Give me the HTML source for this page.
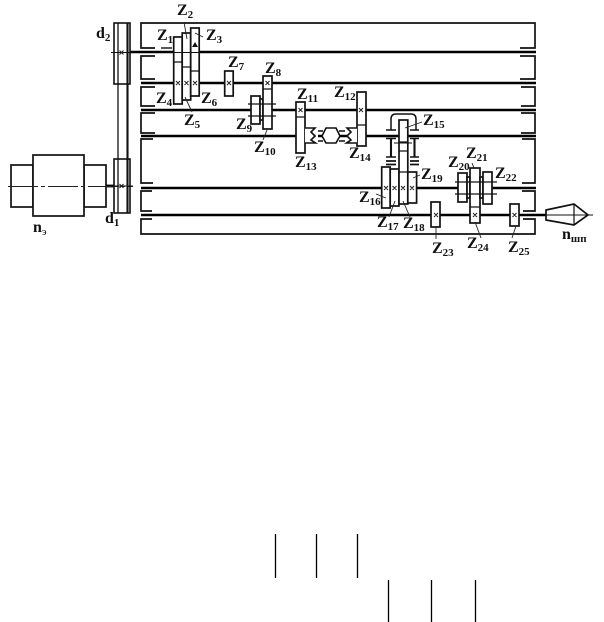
<!DOCTYPE html>
<html><head><meta charset="utf-8">
<style>
html,body{margin:0;padding:0;background:#fff}
svg{display:block}
.z{font:bold 16px "Liberation Serif",serif;fill:#111}
.s{font-size:11px}
</style></head><body>
<svg width="604" height="622" viewBox="0 0 604 622" xmlns="http://www.w3.org/2000/svg">
<!-- housing -->
<g fill="none" stroke="#111" stroke-width="1.7">
<path d="M155 48H141V23H535V48H520"/>
<path d="M161 48H172" stroke-width="1.4"/>
<path d="M155 56H141V79H155M520 56H535V79H520"/>
<path d="M155 87H141V106H155M521 87H535V106H521"/>
<path d="M155 113H141V133H155M521 113H535V133H521"/>
<path d="M153 139H141V183H153M522 139H535V183H522"/>
<path d="M152 191H141V211H152M522 191H535V211H523"/>
<path d="M152 219H141V234H535V219H523"/>
</g>
<!-- shafts -->
<g stroke="#000" stroke-width="2.5" fill="none">
<path d="M130 52H536"/>
<path d="M141 83H536"/>
<path d="M141 110H536"/>
<path d="M141 136H536"/>
<path d="M141 188H536"/>
<path d="M141 215H546"/>
<path d="M106 186H114" stroke-width="2.8"/>
</g>
<!-- motor -->
<g fill="#fff" stroke="#111" stroke-width="1.7">
<rect x="11" y="165" width="22" height="42"/>
<rect x="84" y="165" width="22" height="42"/>
<rect x="33" y="155" width="51" height="61"/>
</g>
<path d="M8 186.500H133" stroke="#222" stroke-width="1" stroke-dasharray="30 3 4 3" fill="none"/>
<!-- pulleys and belt -->
<g fill="none" stroke="#111" stroke-width="1.6">
<rect x="114" y="23" width="16" height="61"/>
<rect x="114" y="159" width="16" height="54"/>
<path d="M118 23V213" stroke-width="1.3"/>
<path d="M127.500 23V213" stroke-width="2.1"/>
<path d="M111 52.500H130M111 186H133" stroke-width="1"/>
</g>
<!-- gears -->
<g fill="#fff" stroke="#111" stroke-width="1.7">
<rect x="173.700" y="37" width="8.500" height="67"/>
<rect x="182.200" y="33" width="8.500" height="67"/>
<rect x="190.700" y="28" width="8.500" height="68"/>
<rect x="224.700" y="71" width="8.500" height="25"/>
<rect x="251" y="96" width="9" height="28"/>
<rect x="260" y="99" width="3" height="21"/>
<rect x="263" y="76" width="9" height="53"/>
<rect x="296" y="102" width="9" height="51"/>
<rect x="357" y="92" width="9" height="54"/>
<rect x="381.700" y="167" width="8.500" height="41"/>
<rect x="390.200" y="169" width="8.800" height="37"/>
<rect x="399" y="120" width="8.800" height="84"/>
<rect x="407.800" y="172" width="8.800" height="31"/>
<rect x="458" y="173" width="9" height="29"/>
<rect x="467" y="177" width="3" height="21"/>
<rect x="470" y="168" width="10" height="55"/>
<rect x="480" y="177" width="3" height="21"/>
<rect x="483" y="172" width="9" height="32"/>
<rect x="431" y="202" width="9" height="25"/>
<rect x="510" y="204" width="9" height="22"/>
</g>
<!-- gear dividers & cross lines -->
<g fill="none" stroke="#111" stroke-width="1.3">
<path d="M174 62H182M182 67H191M191 71H199M263 89H272M296 117H305M357 125H366M399 142H408M399 151H408M399 172H408M470 207H480"/>
<path d="M174 52.500H199" stroke-width="1"/>
<path d="M248 104H276M248 116H276M455 182H497M455 194H497" stroke-width="1.2"/>
<path d="M394 143H412" stroke-width="1"/>
</g>
<polygon points="195,42 192,47 198,47" fill="#111"/>
<!-- crosses -->
<g stroke="#222" stroke-width="1" fill="none">
<path d="M176 81l4 4m0-4l-4 4M184.500 81l4 4m0-4l-4 4M193 81l4 4m0-4l-4 4"/>
<path d="M227 81l4 4m0-4l-4 4M265.500 81l4 4m0-4l-4 4"/>
<path d="M298.500 108l4 4m0-4l-4 4M359 108l4 4m0-4l-4 4"/>
<path d="M384 186l4 4m0-4l-4 4M392.500 186l4 4m0-4l-4 4M401 186l4 4m0-4l-4 4M410 186l4 4m0-4l-4 4"/>
<path d="M434 213l4 4m0-4l-4 4M473 213l4 4m0-4l-4 4M512.500 213l4 4m0-4l-4 4"/>
<path d="M119.500 50.500l4 4m0-4l-4 4M119.500 184l4 4m0-4l-4 4"/>
</g>
<!-- clutch -->
<rect x="315.500" y="133" width="2.500" height="6" fill="#fff"/>
<g fill="#fff" stroke="#111" stroke-width="1.6">
<path d="M305 128H315L311 132L315 136L311 140L315.500 143H305"/>
<path d="M357 128H347L351 132L347 136L351 140L346.500 143H357"/>
<path d="M322 136L326 128H336L340 136L336 143H326Z"/>
<path d="M318 131H323M318 141H323M339 131H345M339 141H345" fill="none"/>
</g>
<!-- Z15 bearings -->
<g fill="none" stroke="#111">
<path d="M391 130V119Q391 114 396 114H411Q416 114 416 119V130" stroke-width="1.5"/>
<path d="M386 130H396M410 130H419M386 138.500H396M410 138.500H419M386 157H396M410 157H419" stroke-width="1.6"/>
<path d="M386 161H396M410 161H419M386 164.500H396M410 164.500H419" stroke-width="1.8"/>
<path d="M391 139V157M414.500 139V157" stroke-width="2.1"/>
</g>
<!-- spindle -->
<g fill="#fff" stroke="#111" stroke-width="1.7">
<path d="M546 210L574 204L588 215L574 225L546 220Z"/>
<path d="M574 204V225" fill="none" stroke-width="1.2"/>
<path d="M546 215H593" fill="none" stroke-width="1"/>
</g>
<!-- leaders -->
<g stroke="#222" stroke-width=".9" fill="none">
<path d="M184 22L187 39M203 37L195 33M185 97L192 112M267 130L263 140"/>
<path d="M376 194L386 198M389 217L395 201M410 217L403 201M420 175L413 178M472 163L474 168"/>
<path d="M436 227V239M475 222L481 238M516 226L512 238M405 128L422 122"/>
</g>
<!-- labels -->
<text class="z" x="157" y="40">Z<tspan class="s" dy="3">1</tspan></text>
<text class="z" x="177" y="15">Z<tspan class="s" dy="3">2</tspan></text>
<text class="z" x="206" y="40">Z<tspan class="s" dy="3">3</tspan></text>
<text class="z" x="156" y="103">Z<tspan class="s" dy="3">4</tspan></text>
<text class="z" x="184" y="125">Z<tspan class="s" dy="3">5</tspan></text>
<text class="z" x="201" y="103">Z<tspan class="s" dy="3">6</tspan></text>
<text class="z" x="228" y="67">Z<tspan class="s" dy="3">7</tspan></text>
<text class="z" x="265" y="73">Z<tspan class="s" dy="3">8</tspan></text>
<text class="z" x="236" y="129">Z<tspan class="s" dy="3">9</tspan></text>
<text class="z" x="254" y="152">Z<tspan class="s" dy="3">10</tspan></text>
<text class="z" x="297" y="99">Z<tspan class="s" dy="3">11</tspan></text>
<text class="z" x="334" y="97">Z<tspan class="s" dy="3">12</tspan></text>
<text class="z" x="295" y="167">Z<tspan class="s" dy="3">13</tspan></text>
<text class="z" x="349" y="158">Z<tspan class="s" dy="3">14</tspan></text>
<text class="z" x="423" y="125">Z<tspan class="s" dy="3">15</tspan></text>
<text class="z" x="359" y="202">Z<tspan class="s" dy="3">16</tspan></text>
<text class="z" x="377" y="227">Z<tspan class="s" dy="3">17</tspan></text>
<text class="z" x="403" y="228">Z<tspan class="s" dy="3">18</tspan></text>
<text class="z" x="421" y="179">Z<tspan class="s" dy="3">19</tspan></text>
<text class="z" x="448" y="167">Z<tspan class="s" dy="3">20</tspan></text>
<text class="z" x="466" y="158">Z<tspan class="s" dy="3">21</tspan></text>
<text class="z" x="495" y="178">Z<tspan class="s" dy="3">22</tspan></text>
<text class="z" x="432" y="253">Z<tspan class="s" dy="3">23</tspan></text>
<text class="z" x="467" y="248">Z<tspan class="s" dy="3">24</tspan></text>
<text class="z" x="508" y="252">Z<tspan class="s" dy="3">25</tspan></text>
<text class="z" x="96" y="38">d<tspan class="s" dy="3">2</tspan></text>
<text class="z" x="105" y="223">d<tspan class="s" dy="3">1</tspan></text>
<text class="z" x="33" y="232">n<tspan class="s" dy="3" font-weight="normal">э</tspan></text>
<text class="z" x="562" y="239">n<tspan class="s" dy="3">шп</tspan></text>
<!-- bottom fraction lines -->
<g stroke="#000" stroke-width="1.3" fill="none">
<path d="M275.500 534V578M316.500 534V578M357.500 534V578"/>
<path d="M388.500 580V622M431.500 580V622M475.500 580V622"/>
</g>
</svg>
</body></html>
